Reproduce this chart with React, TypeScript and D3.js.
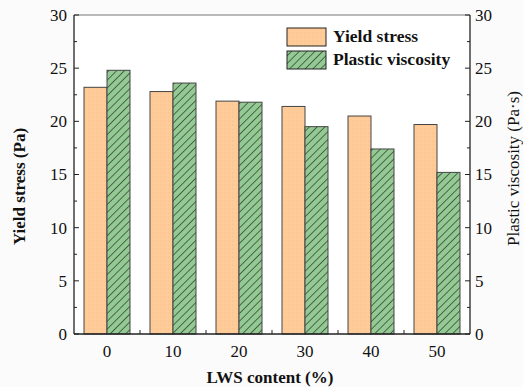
import React from "react";
import * as d3 from "d3";

const categories = ["0", "10", "20", "30", "40", "50"];
const yieldStress = [23.2, 22.8, 21.9, 21.4, 20.5, 19.7];
const plasticViscosity = [24.8, 23.6, 21.8, 19.5, 17.4, 15.2];
const yTicks = [0, 5, 10, 15, 20, 25, 30];
const seriesNames = ["Yield stress", "Plastic viscosity"];

const W = 523;
const H = 387;
const M = { left: 74, right: 470, top: 15, bottom: 334 };
const FONT = "Liberation Serif, Times New Roman, Times, DejaVu Serif, serif";
const tStyle = { fontFamily: FONT } as React.CSSProperties;

export default function App() {
  const x = d3.scaleBand<string>().domain(categories).range([M.left, M.right]).padding(0);
  const y = d3.scaleLinear().domain([0, 30]).range([M.bottom, M.top]);
  const inner = d3.scaleBand<string>().domain(seriesNames).range([10, x.bandwidth() - 10]).padding(0);
  const minor = d3.range(2.5, 30, 5);

  return (
    <svg width={W} height={H} style={{ position: "absolute", left: 0, top: 0, background: "#fbfbfb", fontFamily: FONT }}>
      <defs>
        <pattern id="dots" width="4" height="4" patternUnits="userSpaceOnUse">
          <rect width="4" height="4" fill="#FFCC99" />
          <circle cx="1" cy="1" r="0.5" fill="#F2B57A" />
        </pattern>
        <pattern id="hatch" width="5.5" height="5.5" patternUnits="userSpaceOnUse" patternTransform="rotate(45)">
          <rect width="5.5" height="5.5" fill="#93C993" />
          <line x1="0" y1="0" x2="0" y2="5.5" stroke="#111" strokeWidth="1.1" />
        </pattern>
      </defs>
      <rect x={M.left} y={M.top} width={M.right - M.left} height={M.bottom - M.top} fill="#ffffff" />

      {categories.map((c, i) => (
        <g key={c}>
          <rect
            x={x(c)! + inner(seriesNames[0])!}
            y={y(yieldStress[i])}
            width={inner.bandwidth()}
            height={M.bottom - y(yieldStress[i])}
            fill="url(#dots)"
            stroke="#444"
            strokeWidth={1}
          />
          <rect
            x={x(c)! + inner(seriesNames[1])!}
            y={y(plasticViscosity[i])}
            width={inner.bandwidth()}
            height={M.bottom - y(plasticViscosity[i])}
            fill="url(#hatch)"
            stroke="#444"
            strokeWidth={1}
          />
        </g>
      ))}

      {/* frame */}
      <line x1={M.left} x2={M.right} y1={M.top} y2={M.top} stroke="#777" strokeWidth={1} />
      <line x1={M.left} x2={M.left} y1={M.top} y2={M.bottom} stroke="#222" strokeWidth={1.3} />
      <line x1={M.right} x2={M.right} y1={M.top} y2={M.bottom} stroke="#222" strokeWidth={1.3} />
      <line x1={M.left} x2={M.right} y1={M.bottom} y2={M.bottom} stroke="#222" strokeWidth={1.3} />

      {/* left & right ticks */}
      {yTicks.map((t) => (
        <g key={"yt" + t}>
          <line x1={M.left} x2={M.left + 5} y1={y(t)} y2={y(t)} stroke="#222" />
          <line x1={M.right} x2={M.right - 5} y1={y(t)} y2={y(t)} stroke="#222" />
          <text x={M.left - 7} y={y(t)} dy="0.35em" textAnchor="end" style={tStyle} fontSize={17} fill="#111">
            {t}
          </text>
          <text x={M.right + 5} y={y(t)} dy="0.35em" textAnchor="start" style={tStyle} fontSize={17} fill="#111">
            {t}
          </text>
        </g>
      ))}
      {minor.map((t) => (
        <g key={"mt" + t}>
          <line x1={M.left} x2={M.left + 3} y1={y(t)} y2={y(t)} stroke="#222" />
          <line x1={M.right} x2={M.right - 3} y1={y(t)} y2={y(t)} stroke="#222" />
        </g>
      ))}

      {/* bottom ticks between groups */}
      {categories.slice(1).map((c) => (
        <line key={"bt" + c} x1={x(c)!} x2={x(c)!} y1={M.bottom} y2={M.bottom - 4} stroke="#222" />
      ))}
      {categories.map((c) => (
        <text
          key={"xl" + c}
          x={x(c)! + x.bandwidth() / 2}
          y={357}
          textAnchor="middle"
          style={tStyle}
          fontSize={17}
          fill="#111"
        >
          {c}
        </text>
      ))}

      {/* axis titles */}
      <text x={270} y={383} textAnchor="middle" style={tStyle} fontSize={17} fontWeight="bold" fill="#111">
        LWS content (%)
      </text>
      <text
        transform={`translate(25,${(M.top + M.bottom) / 2 + 12}) rotate(-90)`}
        textAnchor="middle"
        style={tStyle}
        fontSize={17}
        fontWeight="bold"
        fill="#111"
      >
        Yield stress (Pa)
      </text>
      <text
        transform={`translate(519,${(M.top + M.bottom) / 2 - 6}) rotate(-90)`}
        textAnchor="middle"
        style={tStyle}
        fontSize={17}
        fill="#111"
      >
        Plastic viscosity (Pa·s)
      </text>

      {/* legend */}
      <rect x={287} y={28} width={39} height={18} fill="url(#dots)" stroke="#222" strokeWidth={1} />
      <text x={333} y={42} style={tStyle} fontSize={17.5} fontWeight="bold" fill="#111">
        {seriesNames[0]}
      </text>
      <rect x={287} y={51} width={39} height={18} fill="url(#hatch)" stroke="#222" strokeWidth={1} />
      <text x={333} y={65} style={tStyle} fontSize={17.5} fontWeight="bold" fill="#111">
        {seriesNames[1]}
      </text>
    </svg>
  );
}
